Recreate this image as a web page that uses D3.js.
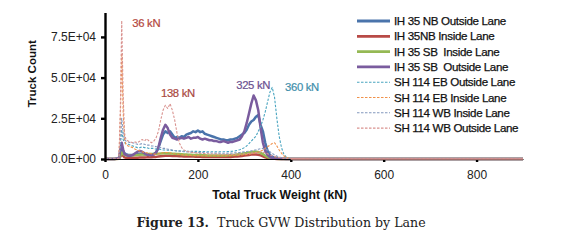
<!DOCTYPE html>
<html>
<head>
<meta charset="utf-8">
<script src="https://cdn.jsdelivr.net/npm/d3@7"></script>
<style>
  body { margin: 0; background: #fff; }
  svg { display: block; font-family: 'Liberation Sans', Arial, sans-serif; }
</style>
</head>
<body>
<svg></svg>
<script>
// total truck weight (kN) at each bin
const weights = [0, 10, 20, 30, 33, 36, 39, 42, 45, 50,
	55, 60, 65, 70, 75, 80, 85, 90, 95, 100,
	105, 110, 115, 120, 125, 130, 135, 140, 145, 150,
	155, 160, 165, 170, 175, 180, 185, 190, 195, 200,
	205, 210, 215, 220, 225, 230, 235, 240, 245, 250,
	255, 260, 265, 270, 275, 280, 285, 290, 295, 300,
	305, 310, 315, 320, 325, 330, 335, 340, 345, 350,
	355, 360, 365, 370, 375, 380, 385, 390, 395, 400,
	450, 900];

// truck counts, in thousands
const ih35NbOutside = [0, 0, 0, 0.3, 4, 7, 5, 3.5, 3, 2.5,
	2.5, 2.5, 2.8, 3, 3.2, 3, 2.8, 2.6, 2.5, 2.6,
	3, 4, 7, 11, 15, 17, 16, 17, 15, 13,
	13.5, 13, 14, 13.5, 15, 15.5, 16, 17, 16.5, 17.5,
	16.5, 17, 15.5, 15, 14.5, 14, 13.5, 13, 12.5, 12,
	12, 11.5, 11.5, 12, 12, 12.5, 13, 14, 15, 16,
	18, 21, 23, 24, 26, 27, 21, 17, 10, 5,
	2.5, 1.5, 1, 0.7, 0.4, 0.2, 0.1, 0, 0, 0,
	0, 0];
const ih35NbInside = [0, 0, 0, 0.2, 1.5, 3, 2, 1, 0.8, 0.7,
	0.7, 0.7, 0.8, 0.8, 0.9, 0.9, 0.9, 1, 1, 1.1,
	1.2, 1.3, 1.5, 1.7, 1.9, 2, 2, 2, 1.9, 1.8,
	1.8, 1.7, 1.7, 1.6, 1.6, 1.5, 1.5, 1.5, 1.4, 1.4,
	1.4, 1.3, 1.3, 1.3, 1.3, 1.2, 1.2, 1.2, 1.2, 1.2,
	1.2, 1.2, 1.3, 1.3, 1.4, 1.5, 1.6, 1.7, 1.9, 2.1,
	2.3, 2.5, 2.7, 2.8, 2.8, 2.6, 2.2, 1.6, 1, 0.6,
	0.3, 0.2, 0.1, 0, 0, 0, 0, 0, 0, 0,
	0, 0];
const ih35SbInside = [0, 0, 0, 0.2, 2, 4, 3, 2.5, 2.2, 2.2,
	2.2, 2.3, 2.4, 2.5, 2.6, 2.7, 2.8, 2.9, 3, 3,
	3.1, 3.2, 3.3, 3.4, 3.5, 3.5, 3.5, 3.4, 3.3, 3.2,
	3.1, 3, 2.9, 2.8, 2.7, 2.6, 2.6, 2.5, 2.5, 2.4,
	2.4, 2.3, 2.3, 2.2, 2.2, 2.2, 2.2, 2.2, 2.2, 2.2,
	2.2, 2.2, 2.3, 2.4, 2.5, 2.6, 2.8, 3, 3.2, 3.5,
	3.7, 4, 4.2, 4.4, 4.5, 4.3, 3.8, 3, 2, 1.2,
	0.7, 0.4, 0.2, 0.1, 0, 0, 0, 0, 0, 0,
	0, 0];
const ih35SbOutside = [0, 0, 0, 0.5, 6, 10, 6, 3, 2.5, 2,
	2, 2.5, 3.5, 4.5, 5, 4.5, 3.5, 2.8, 2.5, 2.5,
	2.8, 4, 7, 13, 18, 21, 19, 15, 13, 12.5,
	12, 12.5, 13, 12.5, 13, 13.5, 12.5, 13, 13, 13.5,
	12.5, 12, 12.5, 12, 11.5, 11.5, 11, 11, 10.5, 10.5,
	11, 10.5, 10, 10.5, 10.5, 11, 11.5, 12, 14, 17,
	22, 28, 34, 39, 36, 30, 19, 10, 5, 2.5,
	1.2, 0.6, 0.3, 0.2, 0.1, 0, 0, 0, 0, 0,
	0, 0];
const sh114EbOutside = [0, 0, 0, 0.3, 8, 18, 12, 10, 9.5, 9,
	8.5, 8, 7.5, 7, 7, 7.5, 7, 7, 6.5, 6.5,
	6.5, 6, 6, 5.8, 5.6, 5.5, 5.4, 5.3, 5.2, 5.1,
	5, 5, 4.9, 4.9, 4.8, 4.8, 4.8, 4.7, 4.7, 4.7,
	4.6, 4.6, 4.6, 4.5, 4.5, 4.5, 4.5, 4.5, 4.5, 4.5,
	4.5, 4.5, 4.6, 4.7, 4.8, 5, 5.3, 5.7, 6.2, 7,
	8, 9.5, 11, 12.5, 14, 17, 20, 24, 29, 35,
	41, 44, 38, 25, 14, 7, 3, 1.2, 0.5, 0.2,
	0, 0];
const sh114EbInside = [0, 0, 0, 0.5, 25, 65, 30, 12, 9, 8,
	7.5, 7, 6, 5.5, 5, 4.5, 4, 3.8, 3.5, 3.2,
	3, 3, 3.2, 3.5, 3.8, 4, 4, 3.8, 3.5, 3.2,
	3, 2.8, 2.6, 2.5, 2.4, 2.3, 2.2, 2.2, 2.1, 2.1,
	2, 2, 2, 2, 2, 2, 2, 2, 2, 2,
	2, 2, 2.1, 2.1, 2.2, 2.2, 2.3, 2.4, 2.5, 2.6,
	2.8, 3, 3.2, 3.5, 3.8, 4.2, 4.8, 5.5, 6.5, 7.5,
	8.5, 9.5, 10, 8, 5.5, 3.5, 2, 1, 0.5, 0.3,
	0, 0];
const sh114WbInside = [0, 0, 0, 0.3, 10, 25, 16, 12, 11, 10.5,
	10, 10, 9.5, 9, 9, 9.5, 9, 8.5, 8.5, 8,
	8, 7.5, 7.5, 7, 6.5, 6.5, 6, 5.8, 5.5, 5.2,
	5, 4.8, 4.6, 4.5, 4.4, 4.3, 4.2, 4.1, 4, 4,
	3.9, 3.9, 3.8, 3.8, 3.7, 3.7, 3.6, 3.6, 3.6, 3.5,
	3.5, 3.5, 3.6, 3.6, 3.7, 3.8, 3.9, 4, 4.2, 4.4,
	4.6, 4.8, 5, 5.3, 5.6, 6, 6.3, 6.5, 6.2, 5.5,
	4.5, 3.5, 2.5, 1.8, 1.2, 0.8, 0.5, 0.3, 0.2, 0.1,
	0, 0];
const sh114WbOutside = [0, 0, 0, 0.5, 30, 85, 40, 16, 12, 11,
	10.5, 10, 10.5, 10, 11, 12, 11, 12.5, 11, 10,
	11, 13, 17, 24, 30, 33, 31, 34, 30, 24,
	16, 10, 7, 5.5, 5, 4.5, 4.2, 4, 3.8, 3.6,
	3.5, 3.4, 3.3, 3.2, 3.2, 3.1, 3, 3, 3, 2.9,
	2.9, 2.8, 2.8, 2.8, 2.8, 2.9, 3, 3, 3.1, 3.2,
	3.3, 3.4, 3.6, 3.8, 4, 4.2, 4.3, 4.2, 3.8, 3.2,
	2.6, 2, 1.6, 1.2, 0.9, 0.6, 0.4, 0.3, 0.2, 0.1,
	0, 0];

const seriesNames = ['IH 35 NB Outside Lane', 'IH 35NB Inside Lane', 'IH 35 SB  Inside Lane',
	'IH 35 SB  Outside Lane', 'SH 114 EB Outside Lane', 'SH 114 EB Inside Lane',
	'SH 114 WB Inside Lane', 'SH 114 WB Outside Lane'];
const seriesValues = [ih35NbOutside, ih35NbInside, ih35SbInside, ih35SbOutside,
	sh114EbOutside, sh114EbInside, sh114WbInside, sh114WbOutside];
const seriesColors = ['#4a74ab', '#b84a46', '#95b954', '#7a5c9e',
	'#4aa5c0', '#f0914a', '#8398bd', '#d9928f'];
const seriesDashed = [false, false, false, false, true, true, true, true];

const xTicks = [0, 200, 400, 600, 800];
const yTicks = [0, 25, 50, 75];

// peak labels: text, weight and count (thousands) where the label sits
const peakText = ['36 kN', '138 kN', '325 kN', '360 kN'];
const peakAtWeight = [89, 157, 319, 424];
const peakAtCount = [81, 38, 43, 41.5];
const peakColors = ['#b4473d', '#a9493f', '#6b5190', '#3f8fab'];

const svg = d3.select('svg')
	.attr('width', 567)
	.attr('height', 240);

const render = () => {
	const margin = { top: 12.5, left: 105 },
		innerWidth = 418,
		innerHeight = 146.5;

	const xScale = d3.scaleLinear()
		.domain([0, 900])
		.range([0, innerWidth]);

	const yScale = d3.scaleLinear()
		.domain([0, 90])
		.range([innerHeight, 0]);

	const g = svg.append('g')
		.attr('transform', `translate(${margin.left}, ${margin.top})`);

	// Drawing
	const lineGenerator = d3.line()
		.x((d, j) => xScale(weights[j]))
		.y(d => yScale(d));

	seriesValues.forEach((vals, i) => {
		g.append('path')
			.attr('fill', 'none')
			.attr('stroke', seriesColors[i])
			.attr('stroke-width', seriesDashed[i] ? 1.1 : 2.5)
			.attr('stroke-dasharray', seriesDashed[i] ? '2.5,1.5' : null)
			.attr('stroke-linejoin', 'round')
			.attr('d', lineGenerator(vals));
	});

	const yAxis = d3.axisLeft(yScale)
		.tickValues(yTicks)
		.tickSize(4)
		.tickSizeOuter(0)
		.tickPadding(5)
		.tickFormat(d => (d / 10).toFixed(1) + (d === 0 ? 'E+00' : 'E+04'));

	const yAxisG = g.append('g').call(yAxis);
	yAxisG.select('.domain').attr('stroke', '#000').attr('stroke-width', 2.4);
	yAxisG.selectAll('line').attr('stroke', '#000').attr('stroke-width', 2.4);
	yAxisG.selectAll('text')
		.attr('font-size', 12)
		.attr('fill', '#222');

	yAxisG.append('text')
		.attr('fill', '#111')
		.attr('font-weight', 'bold')
		.attr('font-size', 11.5)
		.attr('y', -69)
		.attr('x', -innerHeight / 2 + 12)
		.attr('transform', 'rotate(-90)')
		.attr('text-anchor', 'middle')
		.text('Truck Count');

	const xAxis = d3.axisBottom(xScale)
		.tickValues(xTicks)
		.tickSize(3)
		.tickSizeOuter(0)
		.tickPadding(8);

	const xAxisG = g.append('g').call(xAxis)
		.attr('transform', `translate(0, ${innerHeight})`);
	xAxisG.select('.domain').attr('stroke', '#000').attr('stroke-width', 1.2);
	xAxisG.selectAll('line').attr('stroke', '#000').attr('stroke-width', 2.4);
	xAxisG.selectAll('text')
		.attr('font-size', 12)
		.attr('fill', '#222');

	xAxisG.append('text')
		.attr('fill', '#111')
		.attr('font-weight', 'bold')
		.attr('font-size', 12.2)
		.attr('y', 40)
		.attr('x', xScale(376))
		.attr('text-anchor', 'middle')
		.text('Total Truck Weight (kN)');

	// the flat tail of the last series lies over the axis line
	g.append('path')
		.attr('fill', 'none')
		.attr('stroke', seriesColors[7])
		.attr('stroke-width', 1.6)
		.attr('d', d3.line()
			.x((d, j) => xScale(weights[j + 79]))
			.y(d => yScale(d))(sh114WbOutside.slice(79)));

	// peak labels
	g.selectAll('.peak')
		.data(peakText)
		.enter().append('text')
		.attr('class', 'peak')
		.attr('x', (d, i) => xScale(peakAtWeight[i]))
		.attr('y', (d, i) => yScale(peakAtCount[i]))
		.attr('text-anchor', 'middle')
		.attr('font-size', 11.3)
		.attr('letter-spacing', -0.3)
		.attr('fill', (d, i) => peakColors[i])
		.attr('stroke', (d, i) => peakColors[i])
		.attr('stroke-width', 0.2)
		.text(d => d);

	// legend
	const legend = svg.append('g')
		.attr('transform', 'translate(357, 21)');

	const rows = legend.selectAll('g')
		.data(seriesNames)
		.enter().append('g')
		.attr('transform', (d, i) => `translate(0, ${i * 15.3})`);

	rows.append('line')
		.attr('x1', 0)
		.attr('x2', 33)
		.attr('stroke', (d, i) => seriesColors[i])
		.attr('stroke-width', (d, i) => seriesDashed[i] ? 1.1 : 2.8)
		.attr('stroke-dasharray', (d, i) => seriesDashed[i] ? '2.5,1.5' : null);

	rows.append('text')
		.attr('x', 37)
		.attr('y', 4)
		.attr('font-size', 11.6)
		.attr('letter-spacing', -0.35)
		.attr('fill', '#111')
		.attr('stroke', '#111')
		.attr('stroke-width', 0.25)
		.style('white-space', 'pre')
		.text(d => d);

	// caption
	const caption = svg.append('text')
		.attr('x', 281)
		.attr('y', 227)
		.attr('text-anchor', 'middle')
		.attr('font-family', "'DejaVu Serif', serif")
		.attr('font-size', 12.6)
		.attr('fill', '#222');
	caption.append('tspan').attr('font-weight', 'bold').text('Figure 13.');
	caption.append('tspan').style('white-space', 'pre').text('  Truck GVW Distribution by Lane');
};

render();
</script>
</body>
</html>
